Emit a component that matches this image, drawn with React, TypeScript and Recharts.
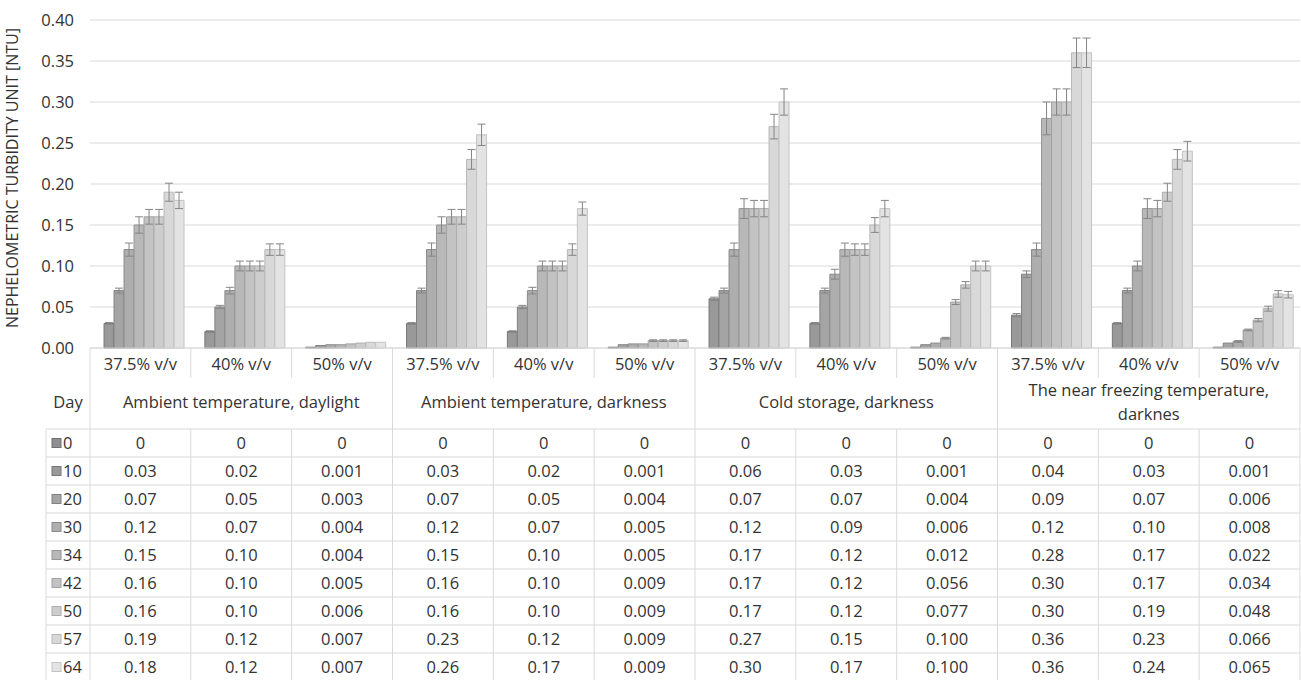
import React from 'react';
import { BarChart, Bar, XAxis, YAxis, CartesianGrid, ErrorBar } from 'recharts';

const CATEGORIES = [
  '37.5% v/v', '40% v/v', '50% v/v',
  '37.5% v/v', '40% v/v', '50% v/v',
  '37.5% v/v', '40% v/v', '50% v/v',
  '37.5% v/v', '40% v/v', '50% v/v',
];
const GROUPS = [
  ['Ambient temperature, daylight'],
  ['Ambient temperature, darkness'],
  ['Cold storage, darkness'],
  ['The near freezing temperature,', 'darknes'],
];
const DAYS = ['0', '10', '20', '30', '34', '42', '50', '57', '64'];

const DAY_0 = [0, 0, 0, 0, 0, 0, 0, 0, 0, 0, 0, 0];
const DAY_10 = [0.03, 0.02, 0.001, 0.03, 0.02, 0.001, 0.06, 0.03, 0.001, 0.04, 0.03, 0.001];
const DAY_20 = [0.07, 0.05, 0.003, 0.07, 0.05, 0.004, 0.07, 0.07, 0.004, 0.09, 0.07, 0.006];
const DAY_30 = [0.12, 0.07, 0.004, 0.12, 0.07, 0.005, 0.12, 0.09, 0.006, 0.12, 0.10, 0.008];
const DAY_34 = [0.15, 0.10, 0.004, 0.15, 0.10, 0.005, 0.17, 0.12, 0.012, 0.28, 0.17, 0.022];
const DAY_42 = [0.16, 0.10, 0.005, 0.16, 0.10, 0.009, 0.17, 0.12, 0.056, 0.30, 0.17, 0.034];
const DAY_50 = [0.16, 0.10, 0.006, 0.16, 0.10, 0.009, 0.17, 0.12, 0.077, 0.30, 0.19, 0.048];
const DAY_57 = [0.19, 0.12, 0.007, 0.23, 0.12, 0.009, 0.27, 0.15, 0.100, 0.36, 0.23, 0.066];
const DAY_64 = [0.18, 0.12, 0.007, 0.26, 0.17, 0.009, 0.30, 0.17, 0.100, 0.36, 0.24, 0.065];

const ERR_0 = [0, 0, 0, 0, 0, 0, 0, 0, 0, 0, 0, 0];
const ERR_10 = [0.001, 0.001, 0, 0.001, 0.001, 0, 0.002, 0.001, 0, 0.002, 0.001, 0];
const ERR_20 = [0.003, 0.002, 0, 0.003, 0.002, 0, 0.003, 0.003, 0, 0.004, 0.003, 0];
const ERR_30 = [0.008, 0.004, 0, 0.008, 0.004, 0, 0.008, 0.006, 0, 0.008, 0.006, 0.001];
const ERR_34 = [0.010, 0.006, 0, 0.010, 0.006, 0, 0.012, 0.008, 0.001, 0.020, 0.012, 0.001];
const ERR_42 = [0.009, 0.006, 0, 0.009, 0.006, 0.001, 0.010, 0.007, 0.003, 0.016, 0.010, 0.002];
const ERR_50 = [0.009, 0.006, 0, 0.009, 0.006, 0.001, 0.010, 0.007, 0.004, 0.016, 0.011, 0.003];
const ERR_57 = [0.011, 0.007, 0, 0.012, 0.007, 0.001, 0.015, 0.009, 0.006, 0.018, 0.012, 0.004];
const ERR_64 = [0.010, 0.007, 0, 0.013, 0.008, 0.001, 0.016, 0.010, 0.006, 0.018, 0.012, 0.004];

const Y_TICKS = [0, 0.05, 0.1, 0.15, 0.2, 0.25, 0.3, 0.35, 0.4];
const Y_LABEL = 'NEPHELOMETRIC TURBIDITY UNIT [NTU]';

const FILLS = ['#8e8e8e', '#999999', '#a4a4a4', '#aeaeae', '#b8b8b8', '#c3c3c3', '#cdcdcd', '#d8d8d8', '#e3e3e3'];
const STROKES = ['#6f6f6f', '#777777', '#818181', '#8b8b8b', '#969696', '#a2a2a2', '#adadad', '#b8b8b8', '#c4c4c4'];

const VALUES = [DAY_0, DAY_10, DAY_20, DAY_30, DAY_34, DAY_42, DAY_50, DAY_57, DAY_64];
const ERRORS = [ERR_0, ERR_10, ERR_20, ERR_30, ERR_34, ERR_42, ERR_50, ERR_57, ERR_64];

const data = CATEGORIES.map((cat, i) => {
  const row: any = { cat };
  DAYS.forEach((d, s) => {
    row['d' + d] = VALUES[s][i];
    row['e' + d] = ERRORS[s][i];
  });
  return row;
});

const W = 1301;
const H = 680;
const PLOT_LEFT = 90;
const PLOT_RIGHT = 1300;
const PLOT_BOTTOM = 348;
const COL_W = (PLOT_RIGHT - PLOT_LEFT) / CATEGORIES.length;
const TABLE_LEFT = 46;
const CAT_ROW_H = 33;
const GROUP_ROW_H = 48;
const DATA_ROW_H = 28;
const TABLE_BOTTOM = PLOT_BOTTOM + CAT_ROW_H + GROUP_ROW_H + DATA_ROW_H * DAYS.length;
const FONT = "'Open Sans', sans-serif";
const TXT = '#333333';
const LINE = '#d9d9d9';
const FS = 16.5;

function fmt(v: number, i: number) {
  if (v === 0) return '0';
  return i % 3 === 2 ? v.toFixed(3) : v.toFixed(2);
}

function TableTick(props: any) {
  const { x, y, payload } = props;
  const i: number = props.index ?? payload.index;
  const left = x - COL_W / 2;
  const right = x + COL_W / 2;
  const y0 = y;
  const dataTop = y0 + CAT_ROW_H + GROUP_ROW_H;
  const els: any[] = [];
  const textProps = { fontFamily: FONT, fontSize: FS, fill: TXT, textAnchor: 'middle' as const };

  els.push(
    <text key="cat" x={x} y={y0 + 22} {...textProps}>{payload.value}</text>
  );
  if (i % 3 === 2) {
    els.push(<line key="gdiv" x1={right} x2={right} y1={y0} y2={TABLE_BOTTOM} stroke={LINE} />);
  } else {
    els.push(<line key="cdiv" x1={right} x2={right} y1={y0} y2={y0 + 30} stroke={LINE} />);
    els.push(<line key="ddiv" x1={right} x2={right} y1={dataTop} y2={TABLE_BOTTOM} stroke={LINE} />);
  }
  if (i % 3 === 1) {
    const lines = GROUPS[Math.floor(i / 3)];
    const gCenter = y0 + CAT_ROW_H + GROUP_ROW_H / 2 - 3;
    const start = gCenter - ((lines.length - 1) * 24) / 2;
    lines.forEach((ln, k) => {
      els.push(
        <text key={'g' + k} x={x} y={start + k * 24 + 6} {...textProps}>{ln}</text>
      );
    });
  }
  VALUES.forEach((vals, r) => {
    const top = dataTop + r * DATA_ROW_H;
    els.push(<line key={'h' + r} x1={left} x2={right} y1={top} y2={top} stroke={LINE} />);
    els.push(
      <text key={'v' + r} x={x} y={top + DATA_ROW_H / 2 + 6} {...textProps}>{fmt(vals[i], i)}</text>
    );
  });
  if (i === 0) {
    els.push(<line key="lb" x1={left} x2={left} y1={y0} y2={TABLE_BOTTOM} stroke={LINE} />);
    els.push(<line key="tl" x1={TABLE_LEFT} x2={TABLE_LEFT} y1={dataTop} y2={TABLE_BOTTOM} stroke={LINE} />);
    els.push(
      <text key="day" x={(TABLE_LEFT + left) / 2} y={y0 + CAT_ROW_H + GROUP_ROW_H / 2 + 3} {...textProps}>Day</text>
    );
    DAYS.forEach((d, r) => {
      const top = dataTop + r * DATA_ROW_H;
      els.push(<line key={'lh' + r} x1={TABLE_LEFT} x2={left} y1={top} y2={top} stroke={LINE} />);
      els.push(
        <rect key={'sw' + r} x={TABLE_LEFT + 6} y={top + DATA_ROW_H / 2 - 4.5} width={9} height={9}
          fill={FILLS[r]} stroke={STROKES[r]} strokeWidth={1} />
      );
      els.push(
        <text key={'dl' + r} x={TABLE_LEFT + 17} y={top + DATA_ROW_H / 2 + 6} fontFamily={FONT} fontSize={FS} fill={TXT} textAnchor="start">{d}</text>
      );
    });
  }
  return <g>{els}</g>;
}

function YLabel(props: any) {
  const vb = props.viewBox || { x: 0, y: 20, width: 90, height: 328 };
  const cx = 12;
  const cy = vb.y + vb.height / 2 - 6;
  return (
    <text x={cx} y={cy} transform={`rotate(-90 ${cx} ${cy})`} textAnchor="middle" dominantBaseline="central"
      fontFamily={FONT} fontSize={16} fill={TXT}>{Y_LABEL}</text>
  );
}

export default function App() {
  return (
    <div style={{ position: 'absolute', left: 0, top: 0, width: W, height: H, background: '#fff' }}>
      <BarChart width={W} height={H} data={data} margin={{ top: 20, right: W - PLOT_RIGHT, bottom: 0, left: 0 }}
        barCategoryGap="4%" barGap={0}>
        <CartesianGrid vertical={false} stroke={LINE} />
        <XAxis dataKey="cat" interval={0} height={H - PLOT_BOTTOM} tickLine={false} tickSize={0} tickMargin={0}
          axisLine={{ stroke: LINE }} tick={<TableTick />} />
        <YAxis width={PLOT_LEFT} domain={[0, 0.4]} ticks={Y_TICKS} tickFormatter={(v: number) => v.toFixed(2)}
          axisLine={false} tickLine={false} tickSize={0} tickMargin={16}
          tick={{ fill: TXT, fontSize: FS, fontFamily: FONT }}
          label={{ content: (p: any) => <YLabel {...p} /> }} />
        {DAYS.map((d, s) => (
          <Bar key={d} dataKey={'d' + d} fill={FILLS[s]} stroke={STROKES[s]} strokeWidth={1} isAnimationActive={false}>
            <ErrorBar dataKey={'e' + d} width={4} stroke="#858585" strokeWidth={1} />
          </Bar>
        ))}
      </BarChart>
    </div>
  );
}
